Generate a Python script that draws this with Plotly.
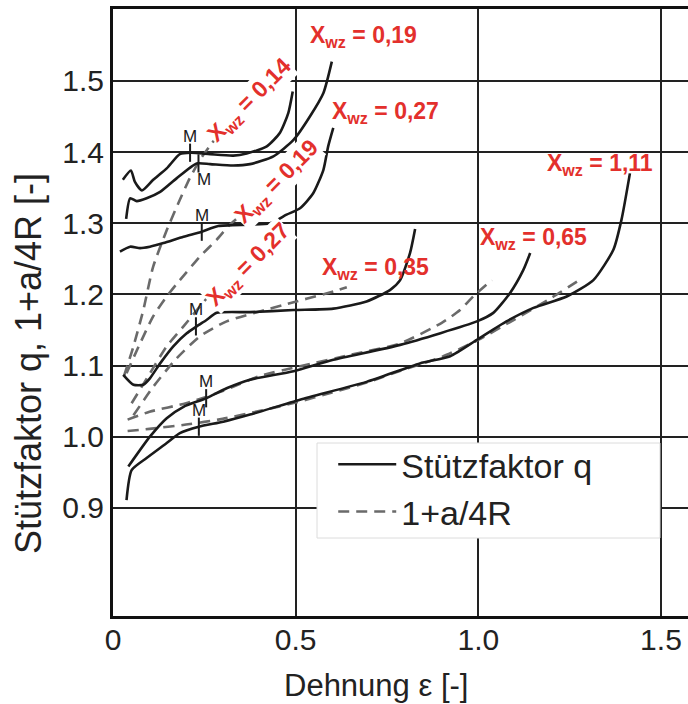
import plotly.graph_objects as go

# ---- data ----
q014_x = [0.027, 0.049, 0.060, 0.079, 0.110, 0.147, 0.183, 0.213, 0.266, 0.329, 0.366, 0.421, 0.457, 0.480, 0.492]
q014_y = [1.361, 1.374, 1.358, 1.346, 1.361, 1.377, 1.397, 1.399, 1.397, 1.395, 1.398, 1.408, 1.427, 1.455, 1.485]

q019_x = [0.036, 0.047, 0.065, 0.092, 0.129, 0.174, 0.229, 0.266, 0.329, 0.375, 0.439, 0.494, 0.539, 0.576, 0.599]
q019_y = [1.306, 1.335, 1.331, 1.335, 1.344, 1.363, 1.384, 1.383, 1.381, 1.383, 1.394, 1.417, 1.450, 1.483, 1.527]

q027_x = [0.019, 0.047, 0.074, 0.101, 0.138, 0.193, 0.243, 0.288, 0.430, 0.475, 0.512, 0.548, 0.576, 0.589, 0.603]
q027_y = [1.260, 1.267, 1.265, 1.267, 1.272, 1.281, 1.288, 1.296, 1.300, 1.312, 1.321, 1.342, 1.375, 1.408, 1.434]

q035_x = [0.028, 0.056, 0.083, 0.101, 0.129, 0.165, 0.201, 0.229, 0.256, 0.284, 0.375, 0.494, 0.603, 0.694, 0.758, 0.786, 0.813, 0.827]
q035_y = [1.087, 1.073, 1.073, 1.082, 1.103, 1.127, 1.145, 1.155, 1.164, 1.174, 1.175, 1.178, 1.180, 1.190, 1.206, 1.220, 1.258, 1.292]

q065_x = [0.042, 0.101, 0.147, 0.193, 0.255, 0.311, 0.375, 0.494, 0.603, 0.786, 0.996, 1.041, 1.087, 1.123, 1.142]
q065_y = [0.958, 1.000, 1.026, 1.042, 1.054, 1.068, 1.080, 1.092, 1.108, 1.129, 1.162, 1.174, 1.202, 1.234, 1.258]

q111_x = [0.037, 0.051, 0.092, 0.147, 0.183, 0.235, 0.302, 0.375, 0.512, 0.694, 0.840, 0.923, 0.996, 1.077, 1.151, 1.242, 1.315, 1.370, 1.392, 1.415]
q111_y = [0.911, 0.953, 0.970, 0.991, 1.005, 1.014, 1.021, 1.031, 1.052, 1.077, 1.103, 1.113, 1.136, 1.162, 1.181, 1.197, 1.220, 1.263, 1.305, 1.370]

r014_x = [0.030, 0.056, 0.083, 0.110, 0.147, 0.183, 0.210, 0.238, 0.270, 0.295]
r014_y = [1.085, 1.127, 1.178, 1.239, 1.290, 1.333, 1.363, 1.389, 1.412, 1.428]

r019_x = [0.037, 0.074, 0.110, 0.147, 0.183, 0.238, 0.284, 0.320, 0.360, 0.393]
r019_y = [1.089, 1.131, 1.169, 1.197, 1.220, 1.253, 1.277, 1.298, 1.315, 1.324]

r027_x = [0.051, 0.101, 0.147, 0.193, 0.238, 0.284, 0.330]
r027_y = [1.047, 1.089, 1.127, 1.155, 1.183, 1.211, 1.235]

r035_x = [0.056, 0.110, 0.174, 0.238, 0.311, 0.466, 0.603, 0.640]
r035_y = [1.030, 1.070, 1.110, 1.141, 1.162, 1.185, 1.204, 1.210]

r065_x = [0.040, 0.100, 0.200, 0.300, 0.400, 0.512, 0.650, 0.786, 0.900, 0.950, 0.986, 1.037]
r065_y = [1.024, 1.035, 1.047, 1.064, 1.085, 1.099, 1.115, 1.131, 1.160, 1.178, 1.197, 1.220]

r111_x = [0.040, 0.100, 0.200, 0.300, 0.400, 0.500, 0.600, 0.700, 0.800, 0.900, 1.000, 1.100, 1.200, 1.270]
r111_y = [1.008, 1.011, 1.017, 1.025, 1.036, 1.048, 1.062, 1.077, 1.095, 1.112, 1.136, 1.165, 1.195, 1.218]

m_x = [0.211, 0.234, 0.243, 0.227, 0.255, 0.235]
m_y = [1.399, 1.384, 1.288, 1.155, 1.054, 1.014]
m_pos = ["top", "bottom", "top", "top", "top", "top"]

label_text = ["0,19", "0,27", "1,11", "0,65", "0,35"]
label_x = [0.534, 0.594, 1.183, 0.999, 0.567]
label_y = [1.562, 1.456, 1.382, 1.279, 1.237]

rot_text = ["0,14", "0,19", "0,27"]
rot_x = [0.375, 0.449, 0.370]
rot_y = [1.473, 1.357, 1.241]

x_ticks = [0, 0.5, 1.0, 1.5]
x_ticktext = ["0", "0.5", "1.0", "1.5"]
y_ticks = [0.9, 1.0, 1.1, 1.2, 1.3, 1.4, 1.5]

RED = "#e3302c"
FONT = "Liberation Sans, Arial, sans-serif"

fig = go.Figure()

solid = [(q014_x, q014_y), (q019_x, q019_y), (q027_x, q027_y), (q035_x, q035_y), (q065_x, q065_y), (q111_x, q111_y)]
dashed = [(r014_x, r014_y), (r019_x, r019_y), (r027_x, r027_y), (r035_x, r035_y), (r065_x, r065_y), (r111_x, r111_y)]

for i, (xs, ys) in enumerate(dashed):
    fig.add_trace(go.Scatter(x=xs, y=ys, mode="lines", line=dict(color="#6a6a6a", width=2.6, dash="11px,7px", shape="spline", smoothing=0.6),
                             name="1+a/4R", legendgroup="r", showlegend=(i == 0), legendrank=2))
for i, (xs, ys) in enumerate(solid):
    fig.add_trace(go.Scatter(x=xs, y=ys, mode="lines", line=dict(color="#1a1a1a", width=2.6, shape="spline", smoothing=0.6),
                             name="Stützfaktor q", legendgroup="q", showlegend=(i == 0), legendrank=1))

fig.add_trace(go.Scatter(x=m_x, y=m_y, mode="markers", showlegend=False,
                         marker=dict(symbol="line-ns", size=13, line=dict(color="#1a1a1a", width=2))))

for x, y, p in zip(m_x, m_y, m_pos):
    fig.add_annotation(x=x, y=y, text="M", showarrow=False, yanchor="bottom" if p == "top" else "top",
                       yshift=5 if p == "top" else -5, xshift=0 if p == "top" else 6,
                       font=dict(family=FONT, size=17, color="#1a1a1a"))

for t, x, y in zip(label_text, label_x, label_y):
    fig.add_annotation(x=x, y=y, text="X<sub>wz</sub> = " + t, showarrow=False, xanchor="left",
                       font=dict(family=FONT, size=23, color=RED, weight="bold"))

for t, x, y in zip(rot_text, rot_x, rot_y):
    fig.add_annotation(x=x, y=y, text="X<sub>wz</sub> = " + t, showarrow=False, textangle=-45,
                       bgcolor="white", borderpad=0,
                       font=dict(family=FONT, size=23, color=RED, weight="bold"))

# axis titles
fig.add_annotation(xref="paper", yref="paper", x=0.457, y=-0.1153, xanchor="center", yanchor="middle",
                   text="Dehnung ε [-]", showarrow=False, font=dict(family=FONT, size=31, color="#222"))
fig.add_annotation(xref="paper", yref="paper", x=-0.1478, y=0.415, xanchor="center", yanchor="middle",
                   text="Stützfaktor q, 1+a/4R [-]", textangle=-90, showarrow=False,
                   font=dict(family=FONT, size=36, color="#222"))

# legend frame
fig.add_shape(type="rect", xref="paper", yref="paper", x0=0.3548, x1=0.9513, y0=0.1285, y1=0.285,
              fillcolor="white", line=dict(color="#dcdcdc", width=1), layer="above")

fig.update_layout(
    width=688, height=704,
    margin=dict(l=113, r=0, t=9, b=88),
    plot_bgcolor="white", paper_bgcolor="white",
    font=dict(family=FONT, color="#222"),
    legend=dict(x=0.383, y=0.297, xanchor="left", yanchor="top", bgcolor="rgba(0,0,0,0)",
                borderwidth=0, font=dict(family=FONT, size=34, color="#222"),
                itemwidth=58, tracegroupgap=0),
)
fig.update_xaxes(range=[0, 1.574], tickvals=x_ticks, ticktext=x_ticktext, showgrid=True, gridcolor="#222",
                 gridwidth=2, showline=True, linecolor="#111", linewidth=3, mirror=True, zeroline=False,
                 ticks="", tickfont=dict(size=30, family=FONT, color="#222"), ticklabelstandoff=-5)
fig.update_yaxes(range=[0.748, 1.601], tickvals=y_ticks, tickformat=".1f", showgrid=True, gridcolor="#222",
                 gridwidth=2, showline=True, linecolor="#111", linewidth=3, zeroline=False,
                 ticks="", tickfont=dict(size=30, family=FONT, color="#222"), ticklabelstandoff=0)

fig.write_html("out.html")
